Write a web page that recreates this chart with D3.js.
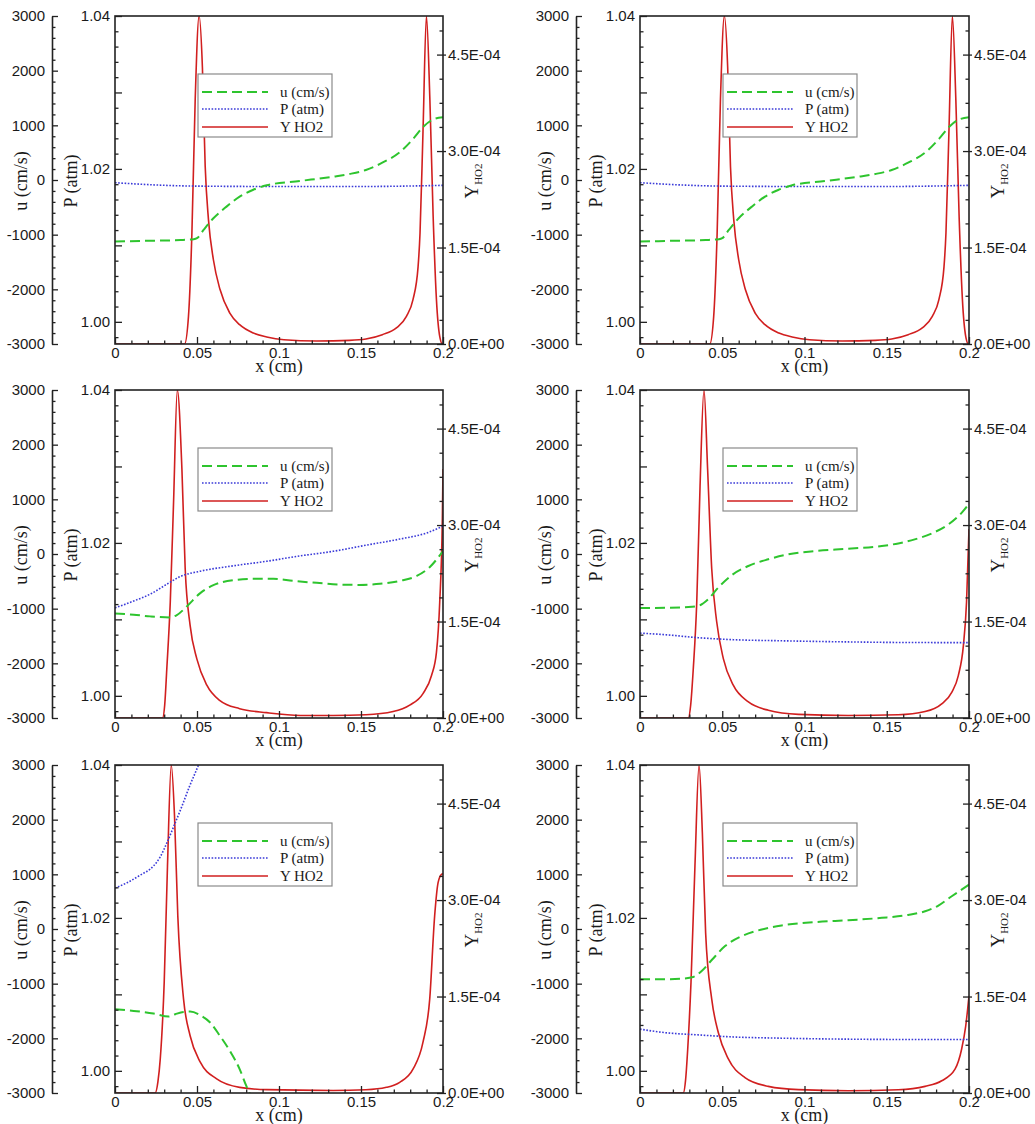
<!DOCTYPE html>
<html>
<head>
<meta charset="utf-8">
<script src="https://cdn.jsdelivr.net/npm/d3@7"></script>
<style>
  html, body { margin: 0; padding: 0; background: #fff; }
  svg { display: block; }
</style>
</head>
<body>
<svg id="chart" width="1035" height="1124"></svg>
<script>
// ---------- tick values / labels ----------
const xTickValues = [0, 0.05, 0.1, 0.15, 0.2];
const xTickLabels = ["0", "0.05", "0.1", "0.15", "0.2"];
const uTickValues = [-3000, -2000, -1000, 0, 1000, 2000, 3000];
const uTickLabels = ["-3000", "-2000", "-1000", "0", "1000", "2000", "3000"];
const pTickValues = [1.00, 1.01, 1.02, 1.03, 1.04];
const pTickLabels = ["1.00", "", "1.02", "", "1.04"];
const yTickValues = [0, 1.5e-4, 3.0e-4, 4.5e-4];
const yTickLabels = ["0.0E+00", "1.5E-04", "3.0E-04", "4.5E-04"];
const legendLabels = ["u (cm/s)", "P (atm)", "Y HO2"];

// ---------- data: [x (cm), value] ----------
const caseA_u = [[0,-1126],[0.02,-1112],[0.04,-1098],[0.048,-1083],[0.05,-1065],[0.054,-913],[0.06,-700],[0.068,-487],[0.076,-304],[0.084,-183],[0.0925,-97],[0.1128,-18],[0.133,61],[0.143,110],[0.153,183],[0.163,316],[0.174,517],[0.182,760],[0.188,974],[0.194,1108],[0.2,1146]];
const caseA_P = [[0,1.0182],[0.025,1.0179],[0.05,1.01775],[0.1,1.0177],[0.15,1.0177],[0.2,1.01785]];
const caseA_Y = [[0,0],[0.0424,0],[0.0448,4.3e-5],[0.0469,1.73e-4],[0.0489,3.8e-4],[0.0513,5.1e-4],[0.0533,4.3e-4],[0.055,2.76e-4],[0.057,1.93e-4],[0.06,1.31e-4],[0.064,8.5e-5],[0.07,4.8e-5],[0.076,3.0e-5],[0.0844,1.7e-5],[0.0925,1.1e-5],[0.103,6.7e-6],[0.123,4.7e-6],[0.143,5.7e-6],[0.153,7.8e-6],[0.163,1.45e-5],[0.1716,2.5e-5],[0.1777,4.3e-5],[0.1817,6.9e-5],[0.1848,1.2e-4],[0.186,1.73e-4],[0.1878,3.3e-4],[0.1899,5.1e-4],[0.192,3.8e-4],[0.194,1.98e-4],[0.196,6.9e-5],[0.198,1.2e-5],[0.1997,0],[0.2,0]];

const caseB_u = caseA_u;
const caseB_P = caseA_P;
const caseB_Y = caseA_Y;

const caseC_u = [[0,-1087],[0.0114,-1111],[0.0215,-1141],[0.0337,-1160],[0.0377,-1117],[0.0438,-959],[0.052,-716],[0.06,-571],[0.072,-480],[0.0844,-455],[0.0966,-455],[0.1087,-492],[0.123,-528],[0.137,-559],[0.149,-565],[0.1615,-546],[0.1736,-492],[0.184,-401],[0.192,-237],[0.2,55]];
const caseC_P = [[0,1.0115],[0.0114,1.0124],[0.0215,1.0133],[0.0316,1.0146],[0.0398,1.0156],[0.052,1.0163],[0.072,1.0170],[0.0925,1.0176],[0.1128,1.0183],[0.133,1.0189],[0.153,1.0197],[0.1736,1.0205],[0.19,1.0213],[0.2,1.0222]];
const caseC_Y = [[0,0],[0.029,0],[0.0303,2.0e-5],[0.0316,7.7e-5],[0.0337,1.8e-4],[0.0357,3.35e-4],[0.038,5.1e-4],[0.0408,3.87e-4],[0.0428,2.32e-4],[0.0458,1.44e-4],[0.0499,9.2e-5],[0.056,5.1e-5],[0.064,2.7e-5],[0.076,1.45e-5],[0.0925,8.3e-6],[0.113,4e-6],[0.133,4e-6],[0.153,5e-6],[0.1696,1e-5],[0.1797,2e-5],[0.1878,3.8e-5],[0.193,6.6e-5],[0.196,1.02e-4],[0.198,1.8e-4],[0.1996,3.1e-4],[0.2,3.87e-4]];

const caseD_u = [[0,-990],[0.0152,-984],[0.0294,-971],[0.0355,-947],[0.0415,-826],[0.0476,-613],[0.0557,-389],[0.0659,-219],[0.078,-97],[0.0902,-6],[0.1064,55],[0.1266,97],[0.147,146],[0.157,194],[0.167,267],[0.1773,376],[0.1874,540],[0.1955,753],[0.2,917]];
const caseD_P = [[0,1.0082],[0.015,1.0080],[0.0355,1.0076],[0.0557,1.00735],[0.086,1.0072],[0.127,1.00705],[0.167,1.00697],[0.2,1.00696]];
const caseD_Y = [[0,0],[0.0294,0],[0.0308,2.0e-5],[0.0324,7.7e-5],[0.0345,1.8e-4],[0.0365,3.6e-4],[0.0389,5.1e-4],[0.0411,3.87e-4],[0.0436,2.32e-4],[0.0466,1.5e-4],[0.0507,9.2e-5],[0.0567,5.1e-5],[0.0659,2.5e-5],[0.078,1.2e-5],[0.0963,5.7e-6],[0.1266,4e-6],[0.157,5e-6],[0.1733,1e-5],[0.1834,2.2e-5],[0.1895,4e-5],[0.1935,6.6e-5],[0.1966,1.13e-4],[0.1985,1.8e-4],[0.2,2.94e-4]];

const caseE_u = [[0,-1468],[0.0114,-1498],[0.0235,-1547],[0.0327,-1602],[0.0367,-1559],[0.0418,-1517],[0.0458,-1511],[0.052,-1577],[0.058,-1711],[0.064,-1954],[0.07,-2228],[0.076,-2562],[0.08,-2866],[0.082,-3000],[0.086,-3250]];
const caseE_P = [[0,1.0239],[0.0073,1.0246],[0.0154,1.0256],[0.0235,1.0268],[0.0276,1.0280],[0.0316,1.0298],[0.0357,1.0319],[0.0408,1.0346],[0.0458,1.0374],[0.0509,1.0400],[0.054,1.0418]];
const caseE_Y = [[0,0],[0.0245,0],[0.0262,1.8e-5],[0.0276,5.3e-5],[0.03,1.72e-4],[0.032,3.53e-4],[0.0343,5.1e-4],[0.0363,4.3e-4],[0.0383,2.75e-4],[0.0418,1.46e-4],[0.0458,8.9e-5],[0.052,4.8e-5],[0.062,2.2e-5],[0.076,8.8e-6],[0.0925,5.2e-6],[0.133,4e-6],[0.153,5e-6],[0.1655,8.8e-6],[0.1736,1.66e-5],[0.1817,3.7e-5],[0.1878,7.9e-5],[0.1919,1.46e-4],[0.1949,2.75e-4],[0.197,3.27e-4],[0.1991,3.4e-4],[0.2,3.41e-4]];

const caseF_u = [[0,-921],[0.0152,-921],[0.0253,-909],[0.0324,-878],[0.0375,-769],[0.0436,-568],[0.0517,-313],[0.0618,-131],[0.074,-9],[0.0861,64],[0.1064,125],[0.1266,161],[0.147,204],[0.163,258],[0.1733,325],[0.1814,429],[0.1895,599],[0.1955,720],[0.2,812]];
const caseF_P = [[0,1.00545],[0.015,1.0050],[0.0355,1.0047],[0.0557,1.00444],[0.086,1.00427],[0.127,1.00414],[0.167,1.0041],[0.2,1.0041]];
const caseF_Y = [[0,0],[0.0263,0],[0.0277,2.0e-5],[0.029,6.8e-5],[0.031,1.72e-4],[0.0334,3.53e-4],[0.0359,5.1e-4],[0.0379,4.05e-4],[0.0399,2.49e-4],[0.0436,1.46e-4],[0.0476,9.4e-5],[0.0537,5.3e-5],[0.0638,2.4e-5],[0.078,1.03e-5],[0.0963,5.2e-6],[0.1266,3.6e-6],[0.157,5e-6],[0.1733,1.03e-5],[0.1834,1.9e-5],[0.1915,3.7e-5],[0.1955,6.8e-5],[0.198,1.04e-4],[0.2,1.51e-4]];

// ---------- layout ----------
const cols = [{uAxisX: 52, left: 115, right: 443}, {uAxisX: 576, left: 640, right: 969}];
const rows = [16, 390, 765];
const PH = 328;
const colors = {u: "#2ec42e", P: "#3a3ad8", Y: "#d11f1f"};
const sansFont = "'Liberation Sans', Arial, Helvetica, sans-serif";
const serifFont = "'Liberation Serif', 'Times New Roman', Times, serif";
const tickFontSize = 15;

const panels = [
  {c: 0, r: 0, u: caseA_u, P: caseA_P, Y: caseA_Y},
  {c: 1, r: 0, u: caseB_u, P: caseB_P, Y: caseB_Y},
  {c: 0, r: 1, u: caseC_u, P: caseC_P, Y: caseC_Y},
  {c: 1, r: 1, u: caseD_u, P: caseD_P, Y: caseD_Y},
  {c: 0, r: 2, u: caseE_u, P: caseE_P, Y: caseE_Y},
  {c: 1, r: 2, u: caseF_u, P: caseF_P, Y: caseF_Y}
];

const svg = d3.select("#chart");
const defs = svg.append("defs");

function range(a, b, step) {
  const out = [];
  for (let v = a; v <= b + step * 1e-6; v += step) out.push(+v.toFixed(8));
  return out;
}

function styleAxis(g) {
  g.attr("font-family", sansFont).attr("font-size", tickFontSize);
  g.selectAll("text").attr("fill", "#1a1a1a");
  g.selectAll("line").attr("stroke", "#222").attr("stroke-width", 1.3);
}

panels.forEach((p, i) => {
  const col = cols[p.c];
  const top = rows[p.r], bottom = top + PH;
  const left = col.left, right = col.right;
  const g = svg.append("g");

  const x = d3.scaleLinear().domain([0, 0.2]).range([left, right]);
  const yU = d3.scaleLinear().domain([-3000, 3000]).range([bottom, top]);
  const yP = d3.scaleLinear().domain([0.9971, 1.04]).range([bottom, top]);
  const yY = d3.scaleLinear().domain([0, 5.1e-4]).range([bottom, top]);

  defs.append("clipPath").attr("id", "clip" + i)
    .append("rect").attr("x", left).attr("y", top).attr("width", right - left).attr("height", PH);

  // ---- curves ----
  const lines = g.append("g").attr("clip-path", `url(#clip${i})`);
  const lineU = d3.line().x(d => x(d[0])).y(d => yU(d[1])).curve(d3.curveMonotoneX);
  const lineP = d3.line().x(d => x(d[0])).y(d => yP(d[1])).curve(d3.curveMonotoneX);
  const lineY = d3.line().x(d => x(d[0])).y(d => yY(d[1])).curve(d3.curveMonotoneX);
  lines.append("path").attr("d", lineY(p.Y)).attr("fill", "none")
    .attr("stroke", colors.Y).attr("stroke-width", 1.6);
  lines.append("path").attr("d", lineP(p.P)).attr("fill", "none")
    .attr("stroke", colors.P).attr("stroke-width", 1.6).attr("stroke-dasharray", "1.6,1.6");
  lines.append("path").attr("d", lineU(p.u)).attr("fill", "none")
    .attr("stroke", colors.u).attr("stroke-width", 2).attr("stroke-dasharray", "10,5");

  // ---- u axis (separate) ----
  const uMinor = range(-3000, 3000, 200).filter(v => v % 1000 !== 0);
  const gUm = g.append("g").attr("transform", `translate(${col.uAxisX},0)`)
    .call(d3.axisLeft(yU).tickValues(uMinor).tickSize(-3.5).tickSizeOuter(0).tickFormat(""));
  gUm.select(".domain").remove();
  styleAxis(gUm);
  const gU = g.append("g").attr("transform", `translate(${col.uAxisX},0)`)
    .call(d3.axisLeft(yU).tickValues(uTickValues).tickSize(-6).tickSizeOuter(0).tickPadding(7)
      .tickFormat((d, k) => uTickLabels[k]));
  gU.select(".domain").attr("stroke", "#222").attr("stroke-width", 1.6);
  styleAxis(gU);

  // ---- P axis (box left) ----
  const pMinor = range(0.998, 1.04, 0.002).filter(v => Math.abs(Math.round(v * 100) - v * 100) > 1e-6);
  const gPm = g.append("g").attr("transform", `translate(${left},0)`)
    .call(d3.axisLeft(yP).tickValues(pMinor).tickSize(-3.5).tickFormat(""));
  gPm.select(".domain").remove();
  styleAxis(gPm);
  const gP = g.append("g").attr("transform", `translate(${left},0)`)
    .call(d3.axisLeft(yP).tickValues(pTickValues).tickSize(-7).tickPadding(5)
      .tickFormat((d, k) => pTickLabels[k]));
  gP.select(".domain").remove();
  styleAxis(gP);

  // ---- Y axis (box right) ----
  const yMinor = range(0, 5.1e-4, 3.75e-5).filter(v => yTickValues.every(t => Math.abs(t - v) > 1e-9));
  const gYm = g.append("g").attr("transform", `translate(${right},0)`)
    .call(d3.axisRight(yY).tickValues(yMinor).tickSize(-3.5).tickFormat(""));
  gYm.select(".domain").remove();
  styleAxis(gYm);
  const gY = g.append("g").attr("transform", `translate(${right},0)`)
    .call(d3.axisRight(yY).tickValues(yTickValues).tickSize(-6).tickPadding(5)
      .tickFormat((d, k) => yTickLabels[k]));
  gY.select(".domain").remove();
  gY.selectAll(".tick line").attr("x1", 3);
  styleAxis(gY);

  // ---- x axis (box bottom) ----
  const xMinor = range(0, 0.2, 0.01).filter(v => xTickValues.every(t => Math.abs(t - v) > 1e-9));
  const gXm = g.append("g").attr("transform", `translate(0,${bottom})`)
    .call(d3.axisBottom(x).tickValues(xMinor).tickSize(-3.5).tickFormat(""));
  gXm.select(".domain").remove();
  styleAxis(gXm);
  const gX = g.append("g").attr("transform", `translate(0,${bottom})`)
    .call(d3.axisBottom(x).tickValues(xTickValues).tickSize(-7).tickPadding(3)
      .tickFormat((d, k) => xTickLabels[k]));
  gX.select(".domain").remove();
  styleAxis(gX);

  // ---- frame ----
  g.append("rect").attr("x", left).attr("y", top).attr("width", right - left).attr("height", PH)
    .attr("fill", "none").attr("stroke", "#222").attr("stroke-width", 1.6);

  // ---- titles ----
  const midY = top + 165;
  g.append("text").attr("transform", `translate(${col.uAxisX - 25},${midY}) rotate(-90)`)
    .attr("text-anchor", "middle").attr("font-family", serifFont).attr("font-size", 18)
    .attr("fill", "#1a1a1a").text("u (cm/s)");
  g.append("text").attr("transform", `translate(${left - 38},${midY}) rotate(-90)`)
    .attr("text-anchor", "middle").attr("font-family", serifFont).attr("font-size", 18)
    .attr("fill", "#1a1a1a").text("P (atm)");
  const yt = g.append("text").attr("transform", `translate(${right + 35},${midY}) rotate(-90)`)
    .attr("text-anchor", "middle").attr("font-family", serifFont).attr("font-size", 19)
    .attr("fill", "#1a1a1a");
  yt.append("tspan").text("Y");
  yt.append("tspan").attr("font-size", 11).attr("dy", 4).text("HO2");
  g.append("text").attr("x", (left + right) / 2).attr("y", bottom + 28)
    .attr("text-anchor", "middle").attr("font-family", serifFont).attr("font-size", 18)
    .attr("fill", "#1a1a1a").text("x (cm)");

  // ---- legend ----
  const lx = left + 83, ly = top + 58;
  const lg = g.append("g");
  lg.append("rect").attr("x", lx).attr("y", ly).attr("width", 134).attr("height", 63)
    .attr("fill", "#fff").attr("stroke", "#8a8a8a").attr("stroke-width", 1.2);
  const styles = [
    {c: colors.u, w: 2, dash: "10,5"},
    {c: colors.P, w: 1.6, dash: "1.6,1.6"},
    {c: colors.Y, w: 1.6, dash: null}
  ];
  const rowOff = [18, 35, 53];
  legendLabels.forEach((lab, k) => {
    const yy = ly + rowOff[k];
    const ln = lg.append("line").attr("x1", lx + 4).attr("x2", lx + 70).attr("y1", yy).attr("y2", yy)
      .attr("stroke", styles[k].c).attr("stroke-width", styles[k].w);
    if (styles[k].dash) ln.attr("stroke-dasharray", styles[k].dash);
    lg.append("text").attr("x", lx + 82).attr("y", yy).attr("dy", "0.33em")
      .attr("font-family", serifFont).attr("font-size", 15).attr("fill", "#1a1a1a").text(lab);
  });
});
</script>
</body>
</html>
